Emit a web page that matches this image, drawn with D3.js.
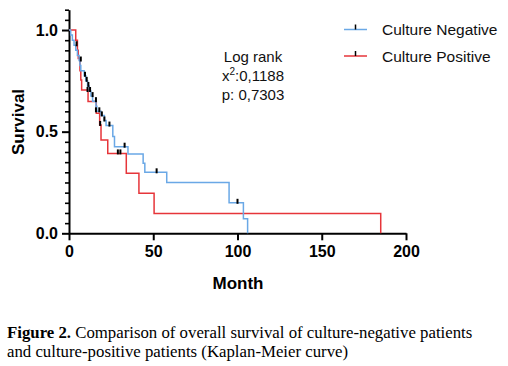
<!DOCTYPE html>
<html>
<head>
<meta charset="utf-8">
<script src="https://cdn.jsdelivr.net/npm/d3@7"></script>
<style>
  html, body { margin: 0; padding: 0; background: #fff; }
  svg { display: block; }
</style>
</head>
<body>
<svg id="chart" width="508" height="366"></svg>
<script>
// ---- data ----
const seriesNames = ["Culture Negative", "Culture Positive"];
// [month, survival after the step]
const negativeSteps = [[0,1],[1,0.975],[2,0.95],[3,0.925],[4,0.90],[5,0.875],[6,0.85],[6.5,0.825],[7,0.80],
  [9,0.775],[10,0.75],[11,0.725],[12,0.70],[13,0.675],[14,0.65],[16,0.625],[16.5,0.60],[19,0.58],
  [21,0.555],[22,0.53],[26,0.476],[27,0.426],[35,0.39],[44,0.345],[45,0.30],[58,0.25],[95,0.15],
  [103.5,0.072],[106,0]];
const positiveSteps = [[0,1],[4,0.95],[5,0.90],[5.5,0.86],[6.5,0.80],[7,0.754],[7.5,0.705],[11.3,0.648],
  [16.2,0.59],[18.2,0.533],[19,0.459],[23,0.393],[34,0.295],[41.5,0.197],[50.5,0.098],[185,0]];
// censored observations [month, survival]
const negativeCensored = [[4.5,0.925],[7,0.85],[9.5,0.775],[10.5,0.75],[11.5,0.725],[11,0.70],[12.5,0.70],
  [14,0.675],[16,0.65],[16,0.60],[18,0.60],[19.5,0.58],[21,0.555],[24,0.53],[33,0.426],[52,0.30],[100,0.15]];
const positiveCensored = [[18.5,0.533],[29,0.393],[30.5,0.393]];
const xTicks = [0, 50, 100, 150, 200];
const yMajorTicks = [0, 0.5, 1.0];
const yMinorTicks = [0.05,0.1,0.15,0.2,0.25,0.3,0.35,0.4,0.45,0.55,0.6,0.65,0.7,0.75,0.8,0.85,0.9,0.95,1.05,1.1];
const statLines = ["Log rank", "x²:0,1188", "p: 0,7303"];

const colors = { neg: "#6aa8e6", pos: "#e6353a" };

const svg = d3.select("#chart");
svg.append("rect").attr("width", 508).attr("height", 366).attr("fill", "#fff");

const x = d3.scaleLinear().domain([0, 200]).range([69, 406]);
const y = d3.scaleLinear().domain([0, 1.1]).range([233.3, 9.7]);

const sans = "'Liberation Sans', Arial, sans-serif";

// ---- y axis ----
const yMinor = svg.append("g").attr("transform", `translate(${x(0)},0)`)
  .call(d3.axisLeft(y).tickValues(yMinorTicks).tickSize(4).tickSizeOuter(0).tickFormat(""));
yMinor.select(".domain").attr("stroke-width", 2);
yMinor.selectAll(".tick line").attr("stroke-width", 1.6);
const yMajor = svg.append("g").attr("transform", `translate(${x(0)},0)`)
  .call(d3.axisLeft(y).tickValues(yMajorTicks).tickSize(7).tickSizeOuter(0).tickPadding(4).tickFormat(d3.format(".1f")));
yMajor.select(".domain").remove();
yMajor.selectAll(".tick line").attr("stroke-width", 2);
yMajor.selectAll("text").attr("font-family", sans).attr("font-weight", "bold").attr("font-size", 16).attr("fill", "#000");

// ---- x axis ----
const xAxis = svg.append("g").attr("transform", `translate(0,${y(0)})`)
  .call(d3.axisBottom(x).tickValues(xTicks).tickSize(7).tickSizeOuter(0).tickPadding(5));
xAxis.select(".domain").attr("stroke-width", 2);
xAxis.selectAll(".tick line").attr("stroke-width", 2);
xAxis.selectAll("text").attr("font-family", sans).attr("font-weight", "bold").attr("font-size", 16).attr("fill", "#000");

// axis titles
svg.append("text").attr("x", 238).attr("y", 289).attr("text-anchor", "middle")
  .attr("font-family", sans).attr("font-weight", "bold").attr("font-size", 17).text("Month");
svg.append("text").attr("transform", "translate(24,122) rotate(-90)").attr("text-anchor", "middle")
  .attr("font-family", sans).attr("font-weight", "bold").attr("font-size", 17).text("Survival");

// ---- KM curves ----
const line = d3.line().x(d => x(d[0])).y(d => y(d[1])).curve(d3.curveStepAfter);
svg.append("path").datum(positiveSteps).attr("d", line).attr("fill", "none")
  .attr("stroke", colors.pos).attr("stroke-width", 1.5);
svg.append("path").datum(negativeSteps).attr("d", line).attr("fill", "none")
  .attr("stroke", colors.neg).attr("stroke-width", 1.5);

// censor marks
const cens = negativeCensored.concat(positiveCensored);
svg.append("g").selectAll("line").data(cens).join("line")
  .attr("x1", d => x(d[0])).attr("x2", d => x(d[0]))
  .attr("y1", d => y(d[1]) + 1).attr("y2", d => y(d[1]) - 4)
  .attr("stroke", "#000").attr("stroke-width", 2);

// ---- legend ----
const legend = svg.append("g");
seriesNames.forEach((name, i) => {
  const ly = 29.5 + i * 26.5;
  const col = i === 0 ? colors.neg : colors.pos;
  legend.append("line").attr("x1", 344).attr("x2", 367).attr("y1", ly).attr("y2", ly)
    .attr("stroke", col).attr("stroke-width", 1.5);
  legend.append("line").attr("x1", 355.5).attr("x2", 355.5).attr("y1", ly).attr("y2", ly - 5)
    .attr("stroke", "#000").attr("stroke-width", 1.5);
  legend.append("text").attr("x", 382).attr("y", ly + 5.5)
    .attr("font-family", sans).attr("font-size", 15.5).attr("fill", "#111").text(name);
});

// ---- stats text ----
const stats = svg.append("g");
statLines.forEach((t, i) => {
  const tx = stats.append("text").attr("x", 253).attr("y", 62 + i * 19).attr("text-anchor", "middle")
    .attr("font-family", sans).attr("font-size", 15).attr("fill", "#111");
  if (t.includes("²")) {
    tx.append("tspan").text("x");
    tx.append("tspan").attr("dy", -6).attr("font-size", 10).text("2");
    tx.append("tspan").attr("dy", 6).text(t.split("²")[1]);
  } else {
    tx.text(t);
  }
});

// ---- caption ----
const serif = "'Liberation Serif', 'Times New Roman', serif";
const cap1 = svg.append("text").attr("x", 7).attr("y", 338).attr("font-family", serif).attr("font-size", 16.8).attr("fill", "#000");
cap1.append("tspan").attr("font-weight", "bold").text("Figure 2.");
cap1.append("tspan").text(" Comparison of overall survival of culture-negative patients");
svg.append("text").attr("x", 7).attr("y", 357).attr("font-family", serif).attr("font-size", 16.8).attr("fill", "#000")
  .text("and culture-positive patients (Kaplan-Meier curve)");
</script>
</body>
</html>
